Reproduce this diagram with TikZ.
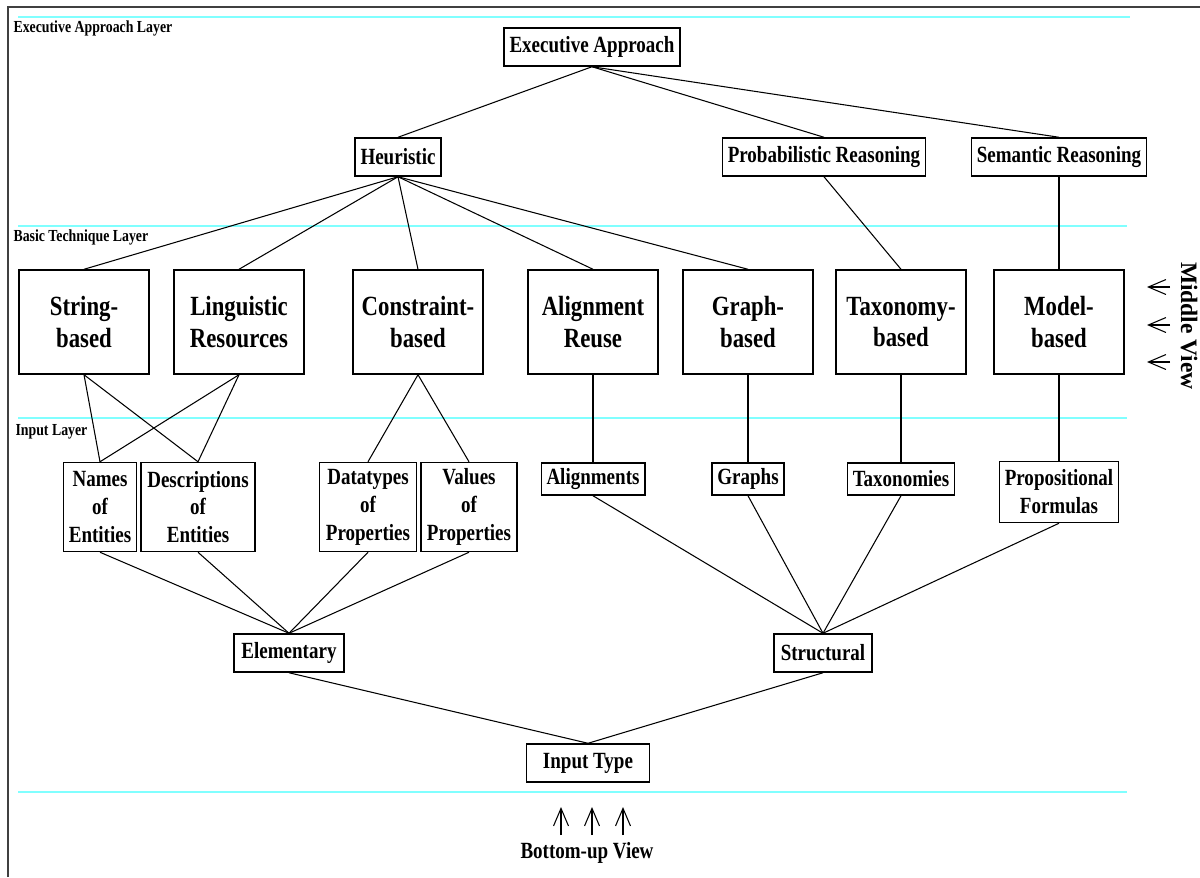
\documentclass[tikz,border=0pt]{standalone}
\usepackage{fontspec}
\setmainfont{Liberation Serif}[FakeStretch=0.82]
\newfontfamily\viewfont{Liberation Serif}
\usetikzlibrary{arrows.meta}
\definecolor{layercyan}{RGB}{128,255,255}
\definecolor{framegray}{RGB}{64,64,64}

\begin{document}
\begin{tikzpicture}[
  x=0.02cm, y=-0.02cm, % pixel-like coordinates
  >={Straight Barb[length=10pt,width=8.5pt]}, % open arrow head
  line width=0.6pt % line style
  ]

  \tikzstyle{box}=[
    draw=black,
    line width=0.85pt,
    fill=white,
    align=center,
    inner xsep=3pt,
    inner ysep=2pt,
    minimum height=0.76cm,
    font=\fontsize{13.2}{15.9}\selectfont\bfseries
  ]
  \tikzstyle{bigbox}=[box, minimum width=2.6cm, minimum height=2.08cm,
    font=\fontsize{15.8}{18}\selectfont\bfseries]
  \tikzstyle{layer}=[draw=layercyan, line width=1.2pt]
  \tikzstyle{layerlabel}=[anchor=west, inner sep=0pt,
    font=\fontsize{9.6}{11}\selectfont\bfseries]

\useasboundingbox (0,0) rectangle (1200,877);
\draw[framegray, line width=1.2pt] (8,877) -- (8,7) -- (1200,7);

% layers
\draw[layer] (18,17) -- (1130,17);
\draw[layer] (18,226) -- (1127,226);
\draw[layer] (18,418) -- (1127,418);
\draw[layer] (18,792) -- (1127,792);
\node[layerlabel] (lexec) at (13,28) {Executive Approach Layer};
\node[layerlabel] (lbasic) at (13,237) {Basic Technique Layer};
\node[layerlabel] (linput) at (15,432) {Input Layer};

% executive approach
\node[box] (exec) at (592,47) {Executive Approach};
\node[box] (heur) at (398,157) {Heuristic};
\node[box] (prob) at (824,157) {Probabilistic Reasoning};
\node[box] (sem) at (1059,157) {Semantic Reasoning};

% basic techniques
\node[bigbox] (str) at (84,322) {String-\\based};
\node[bigbox] (ling) at (239,322) {Linguistic\\Resources};
\node[bigbox] (cons) at (418,322) {Constraint-\\based};
\node[bigbox] (align) at (593,322) {Alignment\\Reuse};
\node[bigbox] (graph) at (748,322) {Graph-\\based};
\node[bigbox] (tax) at (901,322) {Taxonomy-\\based};
\node[bigbox] (model) at (1059,322) {Model-\\based};

% input
\node[box, minimum width=1.46cm, minimum height=1.78cm] (names) at (100,507) {Names\\of\\Entities};
\node[box, minimum width=2.28cm, minimum height=1.78cm] (descr) at (198,507) {Descriptions\\of\\Entities};
\node[box, minimum width=1.94cm, minimum height=1.78cm] (dtype) at (368,507) {Datatypes\\of\\Properties};
\node[box, minimum width=1.92cm, minimum height=1.78cm] (vals) at (469,507) {Values\\of\\Properties};
\node[box, minimum height=0.64cm] (aligns) at (593,479) {Alignments};
\node[box, minimum height=0.64cm] (graphs) at (748,479) {Graphs};
\node[box, minimum height=0.64cm] (taxs) at (901,479) {Taxonomies};
\node[box, minimum height=1.22cm] (props) at (1059,492) {Propositional\\Formulas};

\node[box, minimum width=2.2cm] (elem) at (289,653) {Elementary};
\node[box, minimum width=1.96cm] (struc) at (823,653) {Structural};
\node[box, minimum width=2.46cm] (input) at (588,763) {Input Type};

% views
\node[rotate=-90, font=\viewfont\fontsize{13.4}{16}\selectfont\bfseries] (middle) at (1189,326) {Middle View};
\node[font=\fontsize{13.2}{16}\selectfont\bfseries] (bottom) at (587,853) {Bottom-up View};
\foreach \y [count=\i] in {287,325,362} {
  \coordinate (mv\i) at (1170,\y);
  \coordinate (mt\i) at (1147,\y);
  \draw[->] (mv\i) -- (mt\i);
}
\foreach \x [count=\i] in {561,592,623} {
  \coordinate (bv\i) at (\x,835);
  \coordinate (bt\i) at (\x,807);
  \draw[->] (bv\i) -- (bt\i);
}

 \path (exec.south) edge (heur.north);
 \path (exec.south) edge (prob.north);
 \path (exec.south) edge (sem.north);
 \path (heur.south) edge (str.north);
 \path (heur.south) edge (ling.north);
 \path (heur.south) edge (cons.north);
 \path (heur.south) edge (align.north);
 \path (heur.south) edge (graph.north);
 \path (prob.south) edge (tax.north);
 \path (sem.south) edge (model.north);
 \path (str.south) edge (names.north);
 \path (str.south) edge (descr.north);
 \path (ling.south) edge (names.north);
 \path (ling.south) edge (descr.north);
 \path (cons.south) edge (dtype.north);
 \path (cons.south) edge (vals.north);
 \path (align.south) edge (aligns.north);
 \path (graph.south) edge (graphs.north);
 \path (tax.south) edge (taxs.north);
 \path (model.south) edge (props.north);
 \path (names.south) edge (elem.north);
 \path (descr.south) edge (elem.north);
 \path (dtype.south) edge (elem.north);
 \path (vals.south) edge (elem.north);
 \path (aligns.south) edge (struc.north);
 \path (graphs.south) edge (struc.north);
 \path (taxs.south) edge (struc.north);
 \path (props.south) edge (struc.north);
 \path (elem.south) edge (input.north);
 \path (struc.south) edge (input.north);
\end{tikzpicture}
\end{document}
